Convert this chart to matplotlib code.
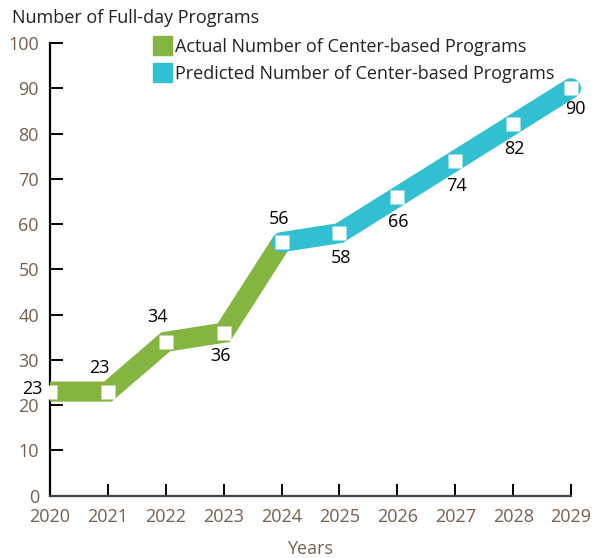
import matplotlib
matplotlib.use("Agg")
import matplotlib.pyplot as plt
from matplotlib.patches import Rectangle

years_actual = [2020, 2021, 2022, 2023, 2024]
values_actual = [23, 23, 34, 36, 56]
years_pred = [2024, 2025, 2026, 2027, 2028, 2029]
values_pred = [56, 58, 66, 74, 82, 90]
x_ticks = list(range(2020, 2030))
y_ticks = list(range(0, 101, 10))
label_years = [2020, 2021, 2022, 2023, 2024, 2025, 2026, 2027, 2028, 2029]
label_values = [23, 23, 34, 36, 56, 58, 66, 74, 82, 90]
# label offsets in points (dx, dy)
label_offsets = [(-13, 2), (-6, 17), (-6, 18), (-2, -17), (-2, 17), (1, -18), (1, -18), (1, -18), (1, -18), (3, -15)]

plt.rcParams['font.family'] = ['Open Sans', 'DejaVu Sans']

GREEN = '#84b540'
CYAN = '#31c0d2'
BROWN = '#765f4c'
FS = 13

fig = plt.figure(figsize=(6.06, 5.58), dpi=100)
ax = fig.add_axes([50/606, (558-495.7)/558, 521/606, (495.7-43)/558])
ax.set_xlim(2020, 2029)
ax.set_ylim(0, 100)

lw = 14.5
ax.plot(years_actual, values_actual, color=GREEN, lw=lw, solid_joinstyle='miter',
        solid_capstyle='butt', zorder=3, clip_on=True)
ax.plot(years_pred, values_pred, color=CYAN, lw=lw, solid_joinstyle='miter',
        solid_capstyle='round', zorder=4, clip_on=False)
ax.plot(years_actual + years_pred[1:], values_actual + values_pred[1:], ls='none',
        marker='s', ms=10.5, mfc='white', mec='none', zorder=5, clip_on=False)

for x, v, (dx, dy) in zip(label_years, label_values, label_offsets):
    ax.annotate(str(v), (x, v), xytext=(dx, dy), textcoords='offset points',
                ha='center', va='center', fontsize=FS, color='black', zorder=6,
                annotation_clip=False)

for s in ['top', 'right']:
    ax.spines[s].set_visible(False)
ax.spines['left'].set_color('black')
ax.spines['left'].set_linewidth(1.6)
ax.spines['bottom'].set_color('#444444')
ax.spines['bottom'].set_linewidth(1.6)
ax.spines['left'].set_zorder(2)
ax.spines['bottom'].set_zorder(2)

ax.set_xticks(x_ticks)
ax.set_yticks(y_ticks)
ax.tick_params(axis='both', direction='in', length=9, width=1.4, colors='black',
               labelcolor=BROWN, labelsize=FS)
ax.tick_params(axis='y', pad=8)
ax.tick_params(axis='x', pad=9)
ax.set_xlabel('Years', color=BROWN, fontsize=FS, labelpad=10)

fig.text(12/606, 1 - 18/558, 'Number of Full-day Programs', fontsize=FS,
         color='#222222', ha='left', va='center')

# legend
for i, (c, t) in enumerate([(GREEN, 'Actual Number of Center-based Programs'),
                            (CYAN, 'Predicted Number of Center-based Programs')]):
    y0 = 36 + i * 27
    fig.patches.append(Rectangle((153/606, 1 - (y0 + 19)/558), 19/606, 19/558,
                                 transform=fig.transFigure, color=c, zorder=10))
    fig.text(175/606, 1 - (y0 + 11)/558, t, fontsize=FS, color='#222222',
             ha='left', va='center', zorder=10)

fig.savefig('out.png', dpi=100)
